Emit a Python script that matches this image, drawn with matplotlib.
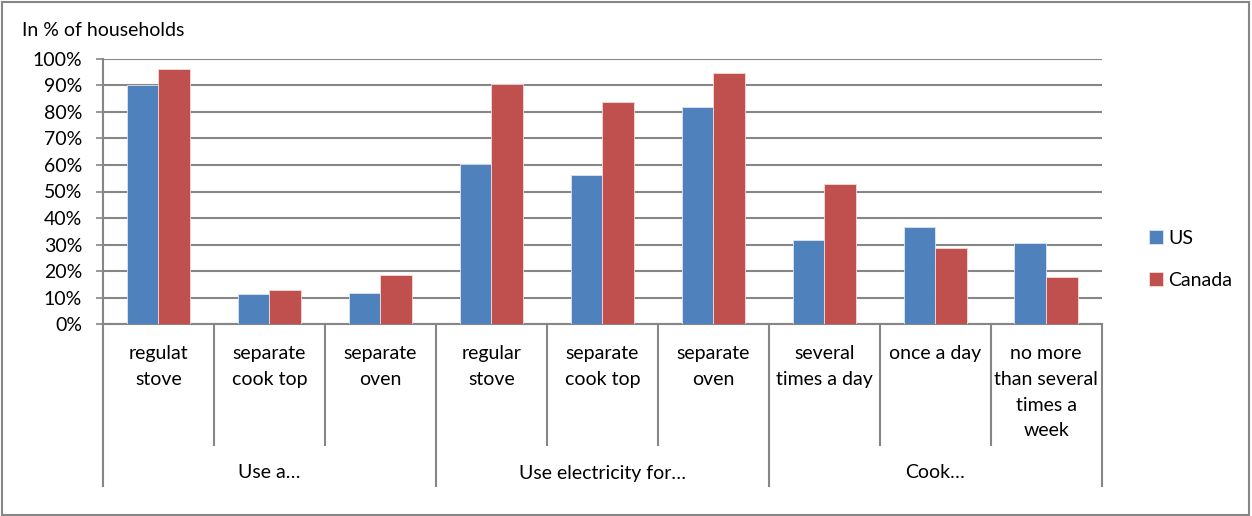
import matplotlib.pyplot as plt
import matplotlib.ticker as mticker
from matplotlib.patches import Rectangle
import numpy as np

plt.rcParams['font.family'] = ['Lato', 'DejaVu Sans']

categories = ['regulat\nstove', 'separate\ncook top', 'separate\noven',
              'regular\nstove', 'separate\ncook top', 'separate\noven',
              'several\ntimes a day', 'once a day', 'no more\nthan several\ntimes a\nweek']
groups = ['Use a…', 'Use electricity for…', 'Cook…']
group_sizes = [3, 3, 3]
us = [90.1, 11.5, 11.7, 60.3, 56.1, 81.9, 31.8, 36.7, 30.7]
canada = [96.1, 13.0, 18.7, 90.4, 83.8, 94.5, 52.8, 28.8, 17.8]

us_color = '#4F81BD'
ca_color = '#C0504D'
grid_color = '#868686'
fs = 14

fig = plt.figure(figsize=(12.52, 5.16), dpi=100)
ax = fig.add_axes([103 / 1252, 1 - 324.3 / 516, (1101.7 - 103) / 1252, (324.3 - 58.7) / 516])

x = np.arange(len(categories))
w = 0.286
ax.bar(x - w / 2, np.array(us) / 100, w, color=us_color, edgecolor='#dce6f2', linewidth=0.6, label='US', zorder=3)
ax.bar(x + w / 2, np.array(canada) / 100, w, color=ca_color, edgecolor='#f2dcdb', linewidth=0.6, label='Canada', zorder=3)

ax.set_xlim(-0.5, len(categories) - 0.5)
ax.set_ylim(0, 1)
ax.set_yticks(np.arange(0, 1.01, 0.1))
ax.yaxis.set_major_formatter(mticker.PercentFormatter(1.0, decimals=0))
ax.tick_params(axis='y', length=5, width=1.2, color=grid_color, labelsize=fs, pad=10)
ax.set_xticks([])
ax.yaxis.grid(True, color=grid_color, linewidth=1.5, zorder=0)
for s in ['top', 'right']:
    ax.spines[s].set_visible(False)
for s in ['left', 'bottom']:
    ax.spines[s].set_color(grid_color)
    ax.spines[s].set_linewidth(1.5)

# multi-level category axis
trans = ax.get_xaxis_transform()
ax_h = 324.3 - 58.7
short_y = -(445 - 324.3) / ax_h
long_y = -(486 - 324.3) / ax_h
bounds = np.cumsum([0] + group_sizes) - 0.5
for i in range(1, len(categories)):
    xb = i - 0.5
    yb = long_y if xb in bounds else short_y
    ax.plot([xb, xb], [0, yb], color=grid_color, linewidth=1.5, transform=trans, clip_on=False)
for xb in [bounds[0], bounds[-1]]:
    ax.plot([xb, xb], [0, long_y], color=grid_color, linewidth=1.5, transform=trans, clip_on=False)

label_top = -(345 - 324.3) / ax_h
for xi, lab in zip(x, categories):
    ax.text(xi, label_top, lab, transform=trans, ha='center', va='top', fontsize=fs, linespacing=1.63)
group_y = -(473 - 324.3) / ax_h
for g, lo, hi in zip(groups, bounds[:-1], bounds[1:]):
    ax.text((lo + hi) / 2, group_y, g, transform=trans, ha='center', va='center', fontsize=fs)

fig.text(22 / 1252, 1 - 30 / 516, 'In % of households', ha='left', va='center', fontsize=fs)

ax.legend(loc='center left', bbox_to_anchor=(1.03, 0.245), frameon=False, fontsize=fs,
          handlelength=0.7, handleheight=0.7, handletextpad=0.3, labelspacing=1.3)

fig.patches.append(Rectangle((2 / 1252, 1 / 516), 1247 / 1252, 513 / 516, transform=fig.transFigure,
                             fill=False, edgecolor=grid_color, linewidth=1.5))

fig.savefig('out.png', dpi=100)
